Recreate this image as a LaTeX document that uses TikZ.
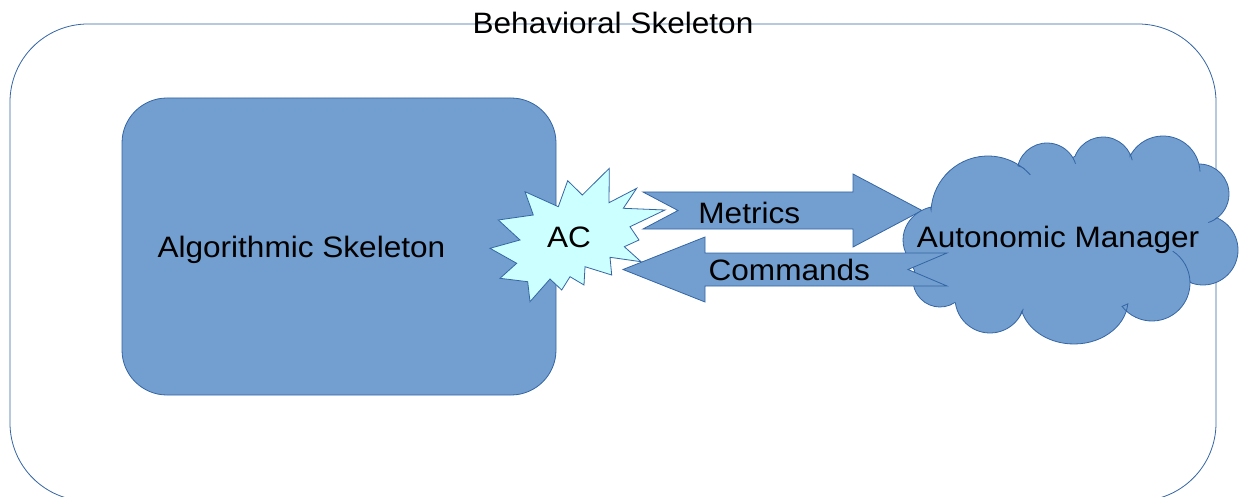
\documentclass[tikz,border=0pt]{standalone}
\usepackage{fontspec}
\setmainfont{Liberation Sans}
\usetikzlibrary{calc}
\definecolor{fillblue}{HTML}{729FCF}
\definecolor{lineblue}{HTML}{3465A4}
\definecolor{starfill}{HTML}{CCFFFF}
\newcommand{\wtxt}[1]{\scalebox{1.07}[1]{#1}}
\begin{document}
\begin{tikzpicture}[x=1pt,y=-1pt,
  shapestyle/.style={fill=fillblue,draw=lineblue,line width=0.8pt},
  edgeonly/.style={draw=lineblue,line width=0.8pt},
  lbl/.style={font=\fontsize{29.5}{34}\selectfont,inner sep=0pt,anchor=base},
]
\useasboundingbox (0,0) rectangle (1239,497);
% outer behavioral skeleton frame
\begin{scope}
\clip (0,0) rectangle (1239,497);
\draw[edgeonly,rounded corners=78pt] (10,24) rectangle (1216,501);
\end{scope}
\node[lbl] (title) at (613,33.3) {\wtxt{Behavioral Skeleton}};
% algorithmic skeleton box
\node[shapestyle,rounded corners=45pt,minimum width=434pt,minimum height=297pt,inner sep=0pt] (alg) at (339,246.5) {};
\node[lbl] (algtext) at (301.4,257) {\wtxt{Algorithmic Skeleton}};
% AC starburst
\draw[edgeonly,fill=starfill]
 (609.3,168.3) -- (609,202.7) -- (636.7,188.3) -- (623.3,208.3) -- (665,210) -- (630,226.7)
 -- (639,240) -- (624.3,246.7) -- (641,261.7) -- (610,257.3) -- (611.7,275) -- (585,266.7)
 -- (584,285) -- (570,276.7) -- (561.7,290) -- (550,279) -- (530,301.7) -- (527.7,281.7)
 -- (500,278.3) -- (516.7,263.3) -- (490,248.3) -- (520,240) -- (498.3,220) -- (533.3,215)
 -- (525,191.7) -- (558.3,206.7) -- (567.7,180.7) -- (582.3,195) -- cycle;
\node[lbl] (ac) at (569,247.3) {\wtxt{AC}};
% Metrics arrow
\draw[shapestyle] (643,192) -- (853,192) -- (853,174) -- (922,210.5) -- (853,247)
 -- (853,229) -- (643,229) -- (678,210.5) -- cycle;
% cloud
\draw[shapestyle]
 ($(940,240)+(150:37 and 34)$) arc[start angle=150,end angle=255,x radius=37,y radius=34]
 -- ($(988,213)+(183:57)$) arc[start angle=183,end angle=307,radius=57]
 -- ($(1047,173)+(194:30)$) arc[start angle=194,end angle=329,radius=30]
 -- ($(1103,167)+(201:30)$) arc[start angle=201,end angle=334,radius=30]
 -- ($(1163,173)+(207:37)$) arc[start angle=207,end angle=346,radius=37]
 -- ($(1199,194)+(272:30)$) arc[start angle=272,end angle=420,radius=30]
 -- ($(1203,250)+(293:35)$) arc[start angle=293,end angle=469,radius=35]
 -- ($(1152,283)+(-2:38)$) arc[start angle=-2,end angle=142,radius=38]
 -- ($(1074,300)+(5:54 and 44)$) arc[start angle=5,end angle=165,x radius=54,y radius=44]
 -- ($(990,298)+(31:35)$) arc[start angle=31,end angle=172,radius=35]
 -- ($(940,280)+(57:27)$) arc[start angle=57,end angle=200,radius=27]
 -- cycle;
% inner strokes of the cloud
\draw[edgeonly] ($(988,213)+(307:57)$) arc[start angle=307,end angle=318,radius=57];
\draw[edgeonly] ($(1047,173)+(329:30)$) arc[start angle=329,end angle=342,radius=30];
\draw[edgeonly] ($(1103,167)+(334:30)$) arc[start angle=334,end angle=347,radius=30];
\draw[edgeonly] ($(1163,173)+(346:37)$) arc[start angle=346,end angle=358,radius=37];
\draw[edgeonly] ($(1199,194)+(420:30)$) arc[start angle=420,end angle=432,radius=30];
\draw[edgeonly] ($(1152,283)+(-57:38)$) arc[start angle=-57,end angle=-2,radius=38];
\draw[edgeonly] ($(990,298)+(31:35)$) arc[start angle=31,end angle=18,radius=35];
% Commands arrow
\draw[shapestyle] (947,253) -- (705,253) -- (705,237) -- (623,269.5) -- (705,302)
 -- (705,286) -- (947,286) -- (908,269.5) -- cycle;
% labels
\node[lbl] (metrics) at (749.3,223.3) {\wtxt{Metrics}};
\node[lbl] (commands) at (789.3,280) {\wtxt{Commands}};
\node[lbl] (am) at (1058,247.3) {\wtxt{Autonomic Manager}};
\end{tikzpicture}
\end{document}
